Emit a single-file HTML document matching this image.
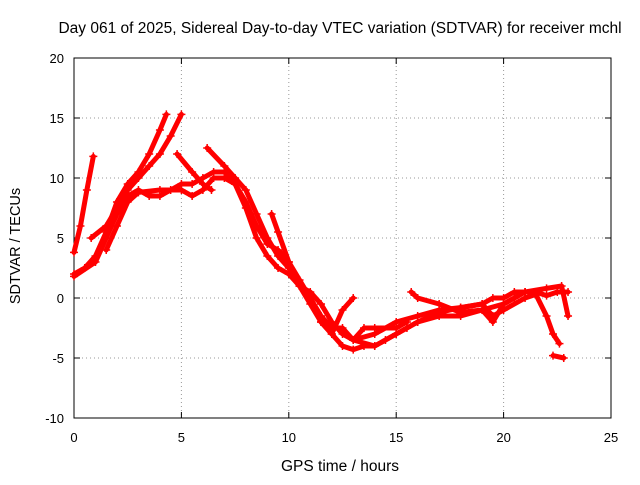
<!DOCTYPE html>
<html><head><meta charset="utf-8"><style>
body{margin:0;background:#fff;}
svg{font-family:"Liberation Sans",sans-serif;font-size:13px;}
</style></head><body>
<svg width="640" height="480">
<rect width="640" height="480" fill="#fff"/>
<g id="grid"></g><g id="axes"></g><g id="series"></g>
<text x="340" y="33" text-anchor="middle" font-size="15.5">Day 061 of 2025, Sidereal Day-to-day VTEC variation (SDTVAR) for receiver mchl</text>
<text x="340" y="471" text-anchor="middle" font-size="15.5">GPS time / hours</text>
<text x="20" y="246" text-anchor="middle" font-size="14.5" transform="rotate(-90 20 246)">SDTVAR / TECUs</text>
</svg>
<script>
const xTicks=[0,5,10,15,20,25];
const yTicks=[-10,-5,0,5,10,15,20];
const track1=[[0,3.8],[0.3,6],[0.6,9],[0.9,11.8]];
const track2=[[0,2],[0.5,2.5],[1,3.5],[1.5,5.5],[2,8],[2.5,9.5],[3,10.5],[3.5,12],[4,14],[4.3,15.3]];
const track3=[[0.8,5],[1.5,6],[2,7.5],[2.5,9],[3,10],[3.5,11],[4,12],[4.5,13.5],[5,15.3]];
const track4=[[0,1.8],[1,3],[1.5,5],[2,7],[2.5,8.5],[3,9],[3.5,8.5],[4,8.5],[4.5,9],[5,9.5],[5.5,9.5],[6,10],[6.5,10.5],[7,10.5],[7.5,9.5],[8,7.5],[8.5,5],[9,3.5],[9.5,2.5],[10,2],[10.5,1],[11,-0.5],[11.5,-2],[12,-3],[12.5,-4],[13,-4.3],[13.5,-4],[14,-4],[14.5,-3.5],[15,-3],[15.5,-2.5],[16,-2],[17,-1.5],[18,-1.5],[19,-1],[20,-0.5],[20.5,0],[21,0.5],[21.5,0.5],[22,0.2],[22.5,0.5],[23,0.5]];
const track5=[[1.5,4],[2,6],[2.5,8],[3,8.8],[4,9],[5,9],[5.5,8.5],[6,9],[6.5,10],[7,10],[7.5,9.5],[8,8],[8.5,6],[9,4.5],[9.5,4],[10,3],[10.5,1.5],[11,0],[11.5,-1.5],[12,-2.5],[12.5,-2.5],[13,-3.5],[14,-4],[15,-3],[16,-2],[17,-1.2],[18,-0.8],[19,-0.5],[19.5,-1.5],[20,-1],[21,0],[21.5,0.3],[22,-1.5],[22.3,-3],[22.6,-3.8]];
const track6=[[6.2,12.5],[7,11],[7.5,10],[8,9],[8.5,7],[9,5],[9.5,3.5],[10,2.5],[10.5,1],[11,0],[11.5,-2],[12,-3],[12.5,-1],[13,0]];
const track7=[[9.2,7],[9.5,5.5],[10,3],[10.5,1],[11,0.5],[11.5,-0.5],[12,-2],[12.5,-3],[13,-3.5],[13.5,-2.5],[14,-2.5],[15,-2.5],[15.5,-2]];
const track8=[[15.7,0.5],[16,0],[17,-0.5],[18,-1.2],[19,-1],[19.5,-2],[20,-0.5],[20.5,0],[21,0.5],[22,0.8],[22.7,1],[23,-1.5]];
const track9=[[13,-3.5],[14,-3],[15,-2],[16,-1.5],[17,-1],[18,-0.8],[19,-0.5],[19.5,0],[20,0],[20.5,0.5],[21,0.5]];
const track10=[[22.3,-4.8],[22.8,-5]];
const track11=[[4.8,12],[5.5,10.5],[6,9.5],[6.4,9]];
const tracks=[track1,track2,track3,track4,track5,track6,track7,track8,track9,track10,track11];
const NS="http://www.w3.org/2000/svg";
const X0=74,X1=611,Y0=418,Y1=58;
const sx=v=>X0+(v-0)/(25-0)*(X1-X0);
const sy=v=>Y0-(v+10)/30*(Y0-Y1);
function mk(t,a,p){const e=document.createElementNS(NS,t);for(const k in a)e.setAttribute(k,a[k]);p.appendChild(e);return e;}
const grid=document.getElementById('grid'),axes=document.getElementById('axes'),ser=document.getElementById('series');
xTicks.forEach(t=>{
 if(t>0&&t<25){const g=mk('line',{x1:sx(t),x2:sx(t),y1:Y1,y2:Y0,stroke:'#999','stroke-dasharray':'1,3'},grid);
 
 }
 mk('line',{x1:sx(t),x2:sx(t),y1:Y0,y2:Y0-6,stroke:'#000'},axes);
 mk('line',{x1:sx(t),x2:sx(t),y1:Y1,y2:Y1+6,stroke:'#000'},axes);
 const l=mk('text',{x:sx(t),y:Y0+24,'text-anchor':'middle'},axes);l.textContent=t;
 
 
});
yTicks.forEach(t=>{
 if(t>-10&&t<20){const g=mk('line',{x1:X0,x2:X1,y1:sy(t),y2:sy(t),stroke:'#999','stroke-dasharray':'1,3'},grid);
 
 }
 mk('line',{x1:X0,x2:X0+6,y1:sy(t),y2:sy(t),stroke:'#000'},axes);
 mk('line',{x1:X1,x2:X1-6,y1:sy(t),y2:sy(t),stroke:'#000'},axes);
 const l=mk('text',{x:X0-10,y:sy(t)+5,'text-anchor':'end'},axes);l.textContent=t;
 
 
});
const b=mk('rect',{x:X0,y:Y1,width:X1-X0,height:Y0-Y1,fill:'none',stroke:'#000'},axes);


tracks.forEach((tr,i)=>{
 const pl=mk('polyline',{points:tr.map(p=>sx(p[0])+','+sy(p[1])).join(' '),fill:'none',stroke:'#f00','stroke-width':5,'stroke-linejoin':'round','stroke-linecap':'round'},ser);
 
 
 tr.forEach(p=>{
  const m=mk('path',{d:`M${sx(p[0])-4},${sy(p[1])}h8M${sx(p[0])},${sy(p[1])-4}v8`,stroke:'#f00','stroke-width':1.5},ser);
  
  
 });
});
</script>
</body></html>
